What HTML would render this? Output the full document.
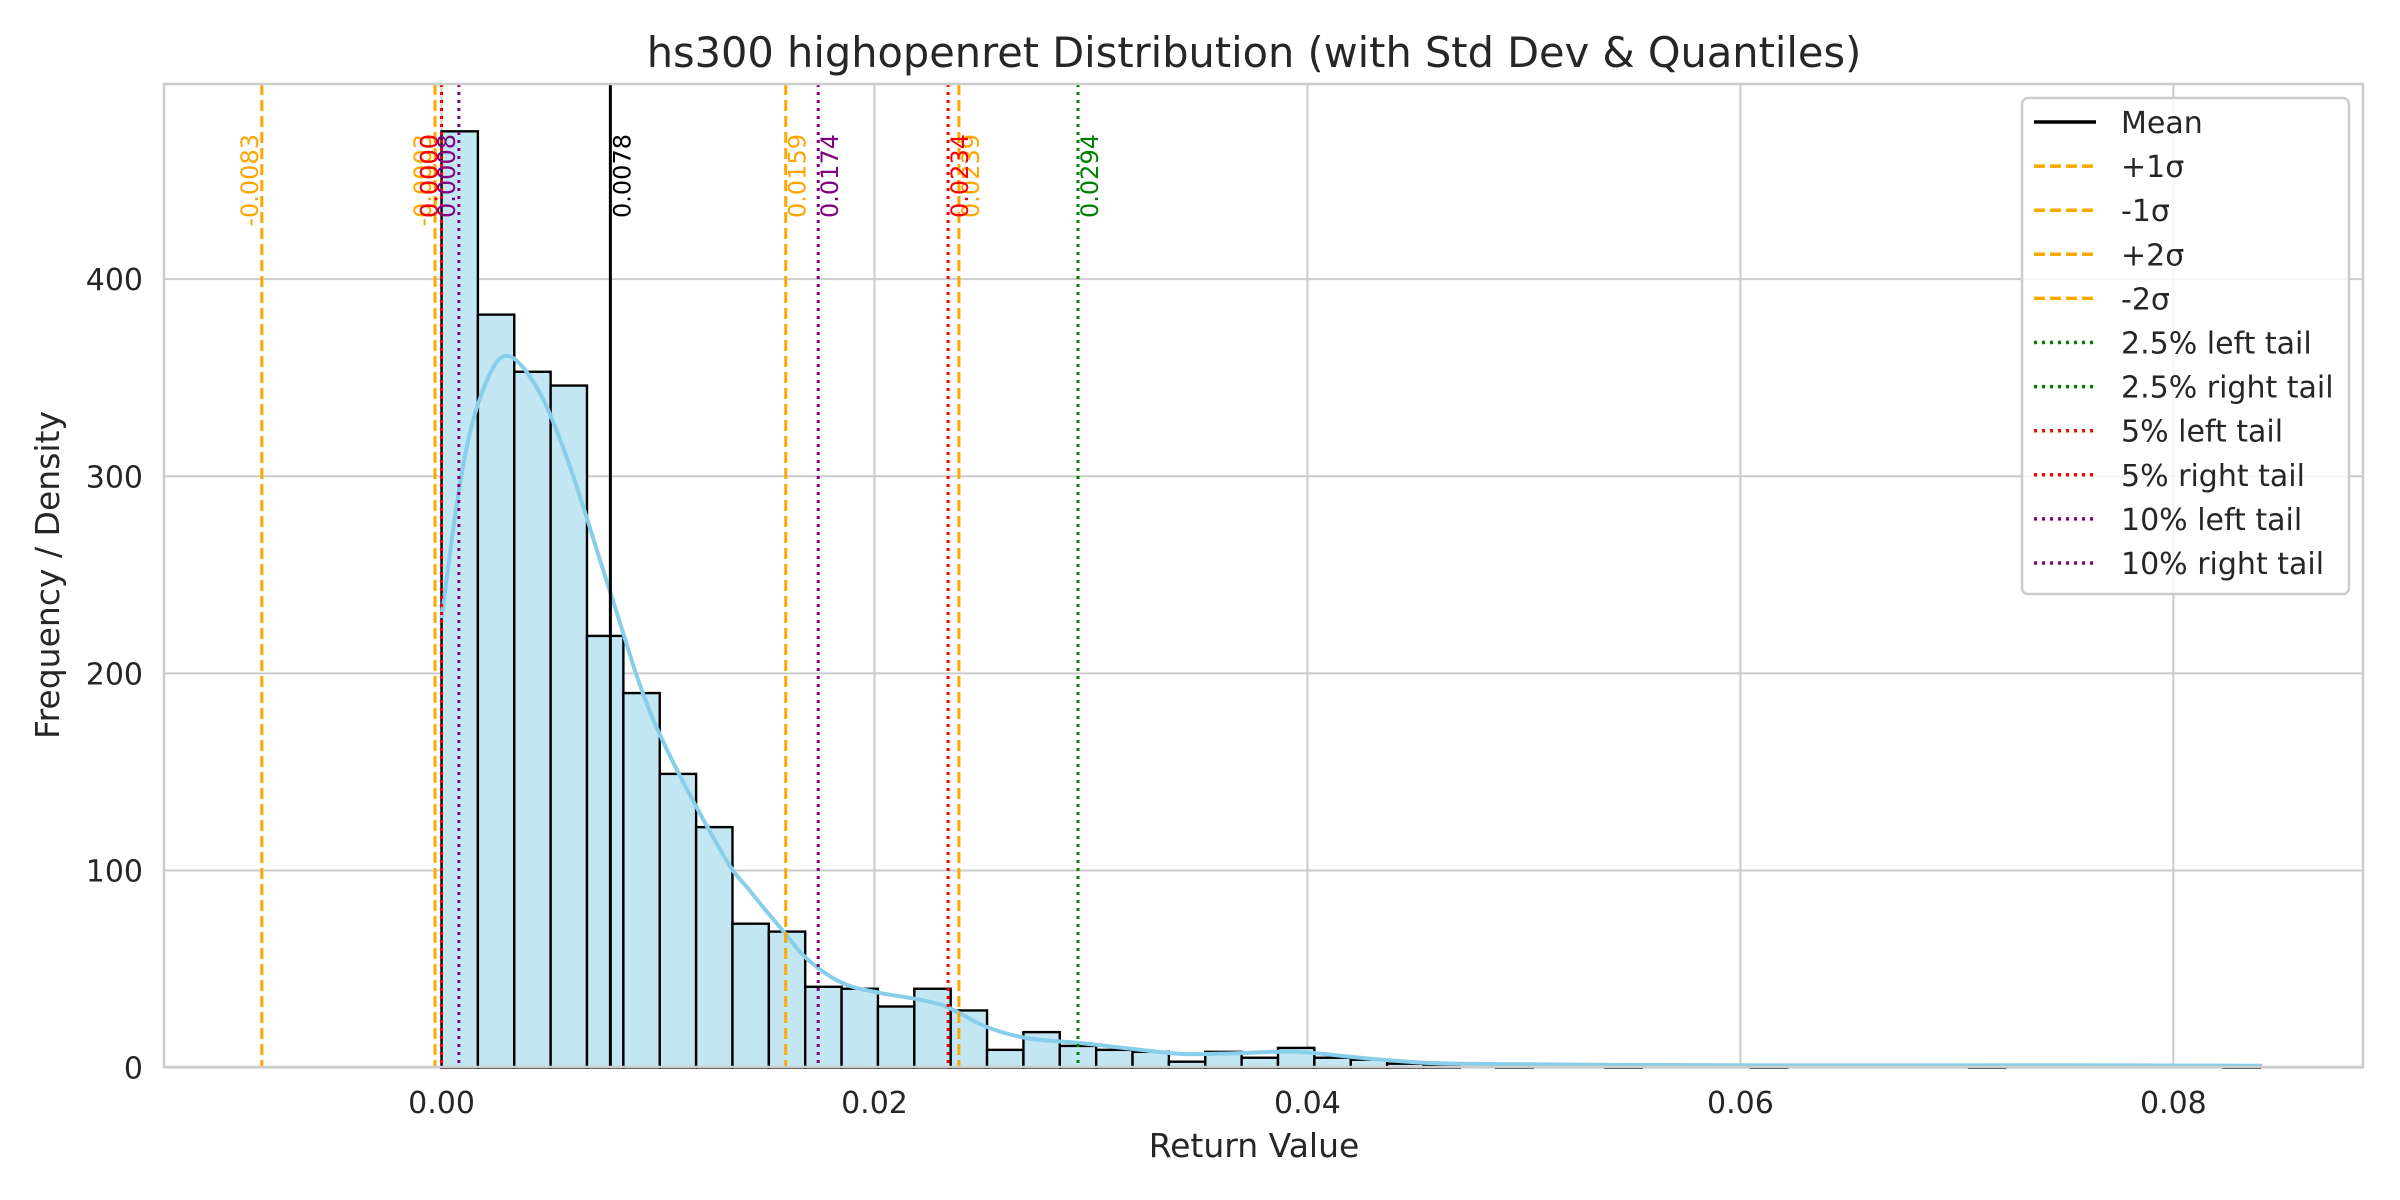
<!DOCTYPE html>
<html><head><meta charset="utf-8"><style>
html,body{margin:0;padding:0;background:#fff;}
svg{display:block;font-family:"DejaVu Sans","Liberation Sans",sans-serif;}
</style></head><body>
<svg id="chart" width="2400" height="1200" viewBox="0 0 2400 1200" xmlns="http://www.w3.org/2000/svg">
<rect x="0" y="0" width="2400" height="1200" fill="#fff"/>
<text x="1254" y="67" text-anchor="middle" font-size="41.5" fill="#262626">hs300 highopenret Distribution (with Std Dev &amp; Quantiles)</text>
<text x="1254" y="1157" text-anchor="middle" font-size="33" fill="#262626">Return Value</text>
<text transform="translate(59,575) rotate(-90)" text-anchor="middle" font-size="33" fill="#262626">Frequency / Density</text>
<g id="grid"></g>
<g id="bars"></g>
<g id="kde"></g>
<g id="vlines"></g>
<g id="ticks"></g>
<rect x="164" y="84" width="2199" height="983" fill="none" stroke="#cccccc" stroke-width="2.5"/>
<g id="legend"></g>
</svg>
<script>
// ---- data ----
const binStart = 0.0;
const binWidth = 0.00168;
const binCounts = [475,382,353,346,219,190,149,122,73,69,41,40,31,40,29,9,18,11,9,8,3,8,5,10,5,4,2,1,0,1,0,0,1,0,0,0,1,0,0,0,0,0,1,0,0,0,0,0,0,1];
const kdeX = [0.0,0.00085,0.0017,0.0029,0.0044,0.0059,0.0078,0.0098,0.0129,0.0143,0.0158,0.0169,0.0185,0.0202,0.0218,0.0233,0.0251,0.0270,0.0296,0.0320,0.0343,0.0367,0.0395,0.0426,0.0454,0.0487,0.055,0.065,0.075,0.0841];
const kdeY = [228,296,337,361,345,306,241,176,110,89,69,55,43,38,35,31,21,15,12.4,9.4,6.9,7.3,8,4.8,2.5,1.8,1.3,1.1,1.2,0.9];
const xTicks = [0.0,0.02,0.04,0.06,0.08];
const xTickLabels = ["0.00","0.02","0.04","0.06","0.08"];
const yTicks = [0,100,200,300,400];
const lineNames = ["Mean","+1σ","-1σ","+2σ","-2σ","2.5% left tail","2.5% right tail","5% left tail","5% right tail","10% left tail","10% right tail"];
const lineValues = [0.0078,0.0159,-0.0003,0.0239,-0.0083,0.0000,0.0294,0.0000,0.0234,0.0008,0.0174];
const lineLabels = ["0.0078","0.0159","-0.0003","0.0239","-0.0083","0.0000","0.0294","0.0000","0.0234","0.0008","0.0174"];
const lineSide = ["r","r","l","r","l","l","r","l","r","l","r"];
// ---- styles ----
const lineColors = ["#000","#ffa500","#ffa500","#ffa500","#ffa500","#008000","#008000","#ff0000","#ff0000","#800080","#800080"];
const lineDash = ["","11 5","11 5","11 5","11 5","3 5","3 5","3 5","3 5","3 5","3 5"];

const X0=164,X1=2363,Y0=1067.6,Y1=84;
const xmin=-0.01282, xmax=0.08876, ymax=499;
const sx=v=>X0+(v-xmin)/(xmax-xmin)*(X1-X0);
const sy=v=>Y0-v/ymax*(Y0-Y1);
const NS="http://www.w3.org/2000/svg";
function mk(tag,attrs,parent){const e=document.createElementNS(NS,tag);for(const k in attrs)e.setAttribute(k,attrs[k]);parent.appendChild(e);return e;}

const grid=document.getElementById('grid'), ticks=document.getElementById('ticks');
xTicks.forEach((t,i)=>{
  const g=mk('line',{x1:sx(t),x2:sx(t),y1:Y1,y2:Y0,stroke:'#cccccc','stroke-width':2},grid);
  
  
  const tx=mk('text',{x:sx(t),y:1113,'text-anchor':'middle','font-size':30,fill:'#262626'},ticks);
  tx.textContent=xTickLabels[i];
  
  
});
yTicks.forEach(t=>{
  const g=mk('line',{x1:X0,x2:X1,y1:sy(t),y2:sy(t),stroke:'#cccccc','stroke-width':2},grid);
  
  
  const tx=mk('text',{x:143,y:sy(t)+11,'text-anchor':'end','font-size':30,fill:'#262626'},ticks);
  tx.textContent=String(t);
  
  
});

const bars=document.getElementById('bars');
binCounts.forEach((c,i)=>{
  if(c<=0)return;
  const a=sx(binStart+i*binWidth), b=sx(binStart+(i+1)*binWidth);
  const r=mk('rect',{x:a,y:sy(c),width:b-a,height:Y0-sy(c),fill:'#c3e6f3',stroke:'#000','stroke-width':2.4},bars);
  
  
});

// smooth KDE via Catmull-Rom
const kde=document.getElementById('kde');
const P=kdeX.map((x,i)=>[sx(x),sy(kdeY[i])]);
let d='M'+P[0][0].toFixed(1)+','+P[0][1].toFixed(1);
for(let i=0;i<P.length-1;i++){
  const p0=P[Math.max(0,i-1)],p1=P[i],p2=P[i+1],p3=P[Math.min(P.length-1,i+2)];
  const c1=[p1[0]+(p2[0]-p0[0])/6,p1[1]+(p2[1]-p0[1])/6];
  const c2=[p2[0]-(p3[0]-p1[0])/6,p2[1]-(p3[1]-p1[1])/6];
  d+='C'+c1.map(v=>v.toFixed(1)).join(',')+' '+c2.map(v=>v.toFixed(1)).join(',')+' '+p2.map(v=>v.toFixed(1)).join(',');
}
const kp=mk('path',{d:d,fill:'none',stroke:'#87ceeb','stroke-width':4,'stroke-linejoin':'round'},kde);



const vl=document.getElementById('vlines');
lineValues.forEach((v,i)=>{
  const x=sx(v);
  const attrs={x1:x,x2:x,y1:Y1,y2:Y0,stroke:lineColors[i],'stroke-width':3};
  if(lineDash[i])attrs['stroke-dasharray']=lineDash[i];
  const l=mk('line',attrs,vl);
  
  
  const bx = lineSide[i]==='r' ? x+20 : x-4;
  const t=mk('text',{transform:`translate(${bx},134) rotate(-90)`,'text-anchor':'end','font-size':24,fill:lineColors[i]},vl);
  t.textContent=lineLabels[i];
  
  
});

const lg=document.getElementById('legend');
const box=mk('rect',{x:2022,y:98,width:327,height:496,rx:6,fill:'#fff','fill-opacity':0.8,stroke:'#cccccc','stroke-width':2.5},lg);


lineNames.forEach((n,i)=>{
  const y=122+44.1*i;
  const attrs={x1:2034,x2:2096,y1:y,y2:y,stroke:lineColors[i],'stroke-width':3.5};
  if(lineDash[i])attrs['stroke-dasharray']=lineDash[i];
  const l=mk('line',attrs,lg);
  
  
  const t=mk('text',{x:2121,y:y+11,'font-size':30,fill:'#262626'},lg);
  t.textContent=n;
  
  
});
</script>
</body></html>
